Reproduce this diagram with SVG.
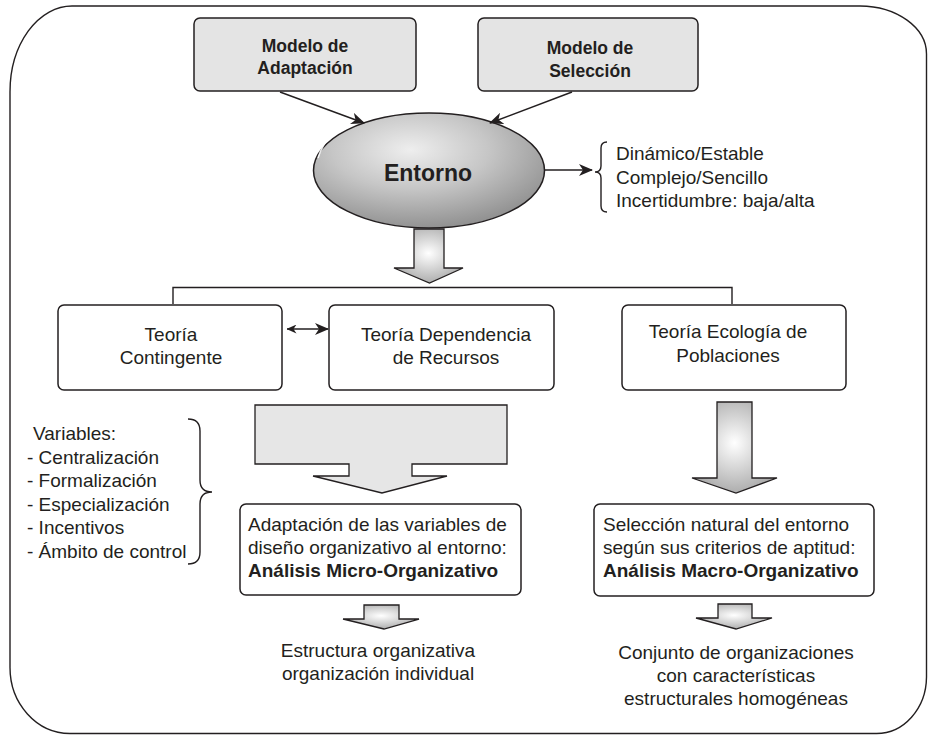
<svg xmlns="http://www.w3.org/2000/svg" width="929" height="735" viewBox="0 0 929 735">
<style>
text{font-family:"Liberation Sans",Arial,sans-serif;fill:#231f20;font-size:19px}
.b{font-weight:bold}
.c{text-anchor:middle}
.t{font-size:17.5px}
.e{font-size:23px}
.box{fill:#fff;stroke:#231f20;stroke-width:1.5}
.gbox{fill:#e4e4e4;stroke:#231f20;stroke-width:1.5}
.ln{fill:none;stroke:#231f20;stroke-width:1.4}
.ga{fill:url(#ag);stroke:#231f20;stroke-width:1.3}
</style>
<defs>
<marker id="ah" markerUnits="userSpaceOnUse" markerWidth="14" markerHeight="12" viewBox="0 0 14 12" refX="13" refY="6" orient="auto-start-reverse">
<path d="M0,0 L14,6 L0,12 L4,6 Z" fill="#231f20"/>
</marker>
<marker id="ahs" markerUnits="userSpaceOnUse" markerWidth="10" markerHeight="9" viewBox="0 0 10 9" refX="9.5" refY="4.5" orient="auto-start-reverse">
<path d="M0,0 L10,4.5 L0,9 L3,4.5 Z" fill="#231f20"/>
</marker>
<radialGradient id="eg" cx="0.42" cy="0.32" r="0.75">
<stop offset="0" stop-color="#eeeeee"/>
<stop offset="0.45" stop-color="#c6c6c6"/>
<stop offset="1" stop-color="#888888"/>
</radialGradient>
<radialGradient id="ag" cx="0.5" cy="0.45" r="0.6">
<stop offset="0" stop-color="#ffffff"/>
<stop offset="1" stop-color="#a6a6a6"/>
</radialGradient>
</defs>

<g id="frame">
<path class="ln" d="M72,6 H860 A67,48 0 0 1 926.5,54 V677 A50,57 0 0 1 876,733.5 H70 A60,66 0 0 1 10,667 V92 A62,86 0 0 1 72,6 Z" stroke-width="1.5"/>
</g>

<g id="modelo-adaptacion">
<rect class="gbox" x="194" y="18" width="222" height="73" rx="6"/>
<text class="b c t" x="305" y="52">Modelo de</text>
<text class="b c t" x="305" y="74">Adaptación</text>
</g>

<g id="modelo-seleccion">
<rect class="gbox" x="478" y="18" width="220" height="73" rx="6"/>
<text class="b c t" x="590" y="54">Modelo de</text>
<text class="b c t" x="590" y="77">Selección</text>
</g>

<g id="entorno">
<ellipse cx="429" cy="170.5" rx="115.5" ry="57.5" fill="url(#eg)" stroke="#231f20" stroke-width="1.5"/>
<path d="M318,158 Q326,132 352,122" fill="none" stroke="#fff" stroke-width="1.5" opacity="0.9"/>
<text class="b c e" x="428" y="180.5">Entorno</text>
</g>

<g id="caracteristicas">
<path class="ln" d="M607,142 Q601,142 601,148 V166 Q601,172 595,172 Q601,172 601,178 V206 Q601,212 607,212" stroke-width="1.2"/>
<text x="616" y="160">Dinámico/Estable</text>
<text x="616" y="183.5">Complejo/Sencillo</text>
<text x="616" y="207">Incertidumbre: baja/alta</text>
</g>

<g id="flecha-entorno">
<path class="ga" d="M414,229 V268 H394 L429.5,283 L463,268 H444 V229 Z"/>
</g>

<g id="teoria-contingente">
<rect class="box" x="58" y="305" width="224" height="85" rx="6"/>
<text class="c" x="171" y="341">Teoría</text>
<text class="c" x="171" y="364">Contingente</text>
</g>

<g id="teoria-dependencia">
<rect class="box" x="329" y="305" width="225" height="85" rx="6"/>
<text class="c" x="446" y="341">Teoría Dependencia</text>
<text class="c" x="446" y="364">de Recursos</text>
</g>

<g id="teoria-ecologia">
<rect class="box" x="622" y="305" width="224" height="85" rx="6"/>
<text class="c" x="728" y="338">Teoría Ecología de</text>
<text class="c" x="728" y="362">Poblaciones</text>
</g>

<g id="variables">
<text x="33" y="440">Variables:</text>
<text x="27" y="463.5">- Centralización</text>
<text x="27" y="487">- Formalización</text>
<text x="27" y="510.5">- Especialización</text>
<text x="27" y="534">- Incentivos</text>
<text x="27" y="557.5">- Ámbito de control</text>
<path class="ln" d="M188,419 Q200,419 200,431 V480 Q200,492 212,492 Q200,492 200,504 V552 Q200,564 188,564" stroke-width="1.2"/>
</g>

<g id="flecha-micro">
<path d="M255,405 H507 V464 H412 V476 H447 L382,493 L313,476 H349 V464 H255 Z" fill="#e6e6e6" stroke="#231f20" stroke-width="1.3"/>
</g>

<g id="flecha-macro">
<path class="ga" d="M717,402 V478 H692 L736,493 L777,478 H752 V402 Z"/>
</g>

<g id="analisis-micro">
<rect class="box" x="240" y="504" width="281" height="91" rx="6"/>
<text x="248" y="531">Adaptación de las variables de</text>
<text x="248" y="554">diseño organizativo al entorno:</text>
<text class="b" x="248" y="577">Análisis Micro-Organizativo</text>
</g>

<g id="analisis-macro">
<rect class="box" x="594" y="504" width="280" height="92" rx="6"/>
<text x="603" y="531">Selección natural del entorno</text>
<text x="603" y="554">según sus criterios de aptitud:</text>
<text class="b" x="603" y="577">Análisis Macro-Organizativo</text>
</g>

<g id="flecha-estructura">
<path class="ga" d="M364,605 V619 H343 L384,629 L419,619 H399 V605 Z"/>
</g>

<g id="flecha-conjunto">
<path class="ga" d="M718,604 V618 H696 L736,629 L772,618 H752 V604 Z"/>
</g>

<g id="estructura">
<text class="c" x="378" y="657">Estructura organizativa</text>
<text class="c" x="378" y="680">organización individual</text>
</g>

<g id="conjunto">
<text class="c" x="736" y="659">Conjunto de organizaciones</text>
<text class="c" x="736" y="682">con características</text>
<text class="c" x="736" y="705">estructurales homogéneas</text>
</g>

<g id="connectors">
<line class="ln" x1="280" y1="92" x2="364" y2="123" marker-end="url(#ah)" stroke-width="1.2"/>
<line class="ln" x1="572" y1="92" x2="490" y2="123" marker-end="url(#ah)" stroke-width="1.2"/>
<line class="ln" x1="545" y1="170" x2="592" y2="170" marker-end="url(#ah)" stroke-width="1.2"/>
<line class="ln" x1="287" y1="329" x2="328" y2="329" marker-start="url(#ahs)" marker-end="url(#ah)" stroke-width="1.2"/>
<path class="ln" d="M173,304 V287.5 H732 V304"/>
</g>
</svg>
